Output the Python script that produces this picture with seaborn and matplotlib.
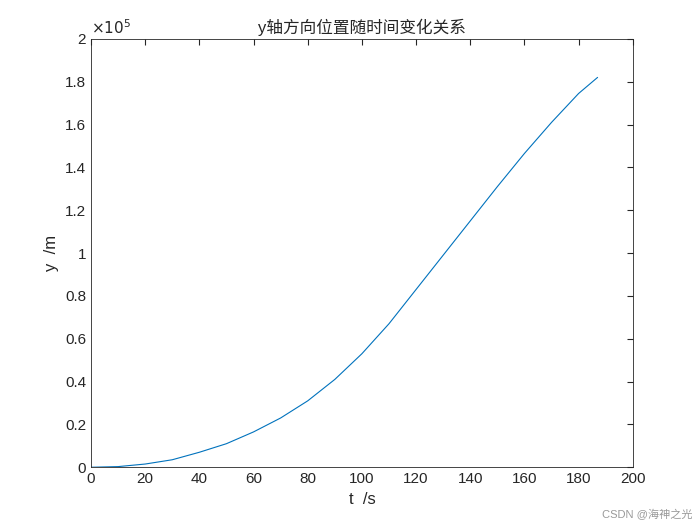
import matplotlib
matplotlib.use("Agg")
import matplotlib.pyplot as plt
import seaborn as sns
import pandas as pd

t = [0, 10, 20, 30, 40, 50, 60, 70, 80, 90, 100, 110, 120, 130, 140, 150, 160, 170, 180, 187]
y = [0, 300, 1500, 3500, 7000, 11000, 16500, 23000, 31000, 41000, 53000, 67000, 83000, 99000,
     115000, 131000, 146500, 161000, 174500, 182000]

sns.set_style("white")
plt.rcParams['font.family'] = ['Liberation Sans', 'Noto Sans CJK SC', 'DejaVu Sans']
plt.rcParams['axes.unicode_minus'] = False

fig = plt.figure(figsize=(7, 5.25), dpi=100)
ax = fig.add_axes([0.13, 0.110, 0.774, 0.816])
df = pd.DataFrame({"t": t, "y": [v / 1e5 for v in y]})
sns.lineplot(data=df, x="t", y="y", ax=ax, color="#0072BD", linewidth=0.8)
ax.set_xlim(0, 200)
ax.set_ylim(0, 2)
ax.set_xticks(range(0, 201, 20))
ax.set_yticks([i / 10 for i in range(0, 21, 2)])
ax.set_yticklabels(["0"] + [f"{i/10:g}" for i in range(2, 21, 2)])
ax.tick_params(direction="in", top=True, right=True, labelsize=11, length=4, color="#262626")
for s in ax.spines.values():
    s.set_color("#262626"); s.set_linewidth(0.6)
ax.set_xlabel("t  /s", fontsize=12)
ax.set_ylabel("y  /m", fontsize=12)
ax.set_title("y轴方向位置随时间变化关系", fontsize=12, pad=4)
ax.text(0.0, 1.005, r"$\times10^5$", transform=ax.transAxes, fontsize=11, va="bottom", family="DejaVu Sans")
fig.text(0.99, 0.01, "CSDN @海神之光", ha="right", va="bottom", fontsize=8, color="#999999")
fig.savefig("out.png", dpi=100, facecolor="white")
